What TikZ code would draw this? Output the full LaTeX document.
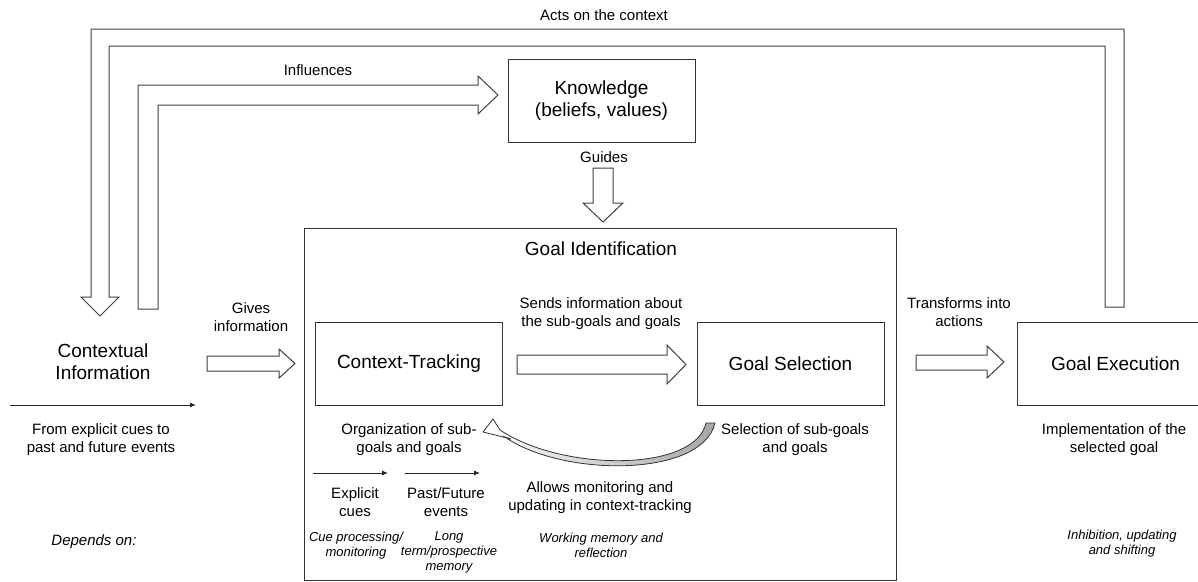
\documentclass[tikz,border=0pt]{standalone}
\usepackage{fontspec}
\setmainfont{Liberation Sans}
\usetikzlibrary{arrows.meta}

\begin{document}
\begin{tikzpicture}[x = 1pt, y = -1pt, line width = 1pt,
        every node/.style={align=center, inner sep=0pt, font=\fontsize{15}{18}\selectfont},
        stage/.style={draw=black!80, minimum width=187, minimum height=83, font=\fontsize{19}{22}\selectfont},
        note/.style={font=\fontsize{13}{15}\selectfont\itshape},
        block/.style={draw=black!75, fill=white, line join=miter},
        cuearrow/.style={-{Latex[length=6pt,width=5pt]}, line width=0.9pt, draw=black!85}
]
    \useasboundingbox (0,0) rectangle (1198,581);

    % boxes
    \node[stage, minimum width=592, minimum height=352] (ident) at (600,404) {};
    \node[font=\fontsize{19}{22}\selectfont] (identtitle) at (601,249) {Goal Identification};
    \node[stage] (know) at (601.5,100.5) {Knowledge\\(beliefs, values)};
    \node[stage] (track) at (409,363.5) {Context-Tracking};
    \node[stage] (select) at (790.5,363.5) {Goal Selection};
    \node[stage, minimum width=196, anchor=west] (exec) at (1017,363.5) {Goal Execution};
    \node[font=\fontsize{19}{22}\selectfont] (ctx) at (103,362) {Contextual\\Information};

    % labels
    \node (acts) at (604,15) {Acts on the context};
    \node (influ) at (318,70) {Influences};
    \node (guides) at (604,157) {Guides};
    \node (gives) at (251,317) {Gives\\information};
    \node (sends) at (601,314) {Sends information about\\the sub-goals and goals};
    \node (transf) at (959,312) {Transforms into\\actions};
    \node (fromcues) at (101,440) {From explicit cues to\\past and future events};
    \node (organ) at (409,440) {Organization of sub-\\goals and goals};
    \node (selof) at (795,440) {Selection of sub-goals\\and goals};
    \node (implem) at (1114,440) {Implementation of the\\selected goal};
    \node (explicit) at (355,502) {Explicit\\cues};
    \node (pastfut) at (446,502) {Past/Future\\events};
    \node (allows) at (600,498) {Allows monitoring and\\updating in context-tracking};
    \node (depends) at (94,542) {\itshape Depends on:};
    \node[note] (cueproc) at (356,545.5) {Cue processing/\\monitoring};
    \node[note] (longterm) at (449,552) {Long\\term/prospective\\memory};
    \node[note] (working) at (601,545.5) {Working memory and\\reflection};
    \node[note] (inhib) at (1122,544) {Inhibition, updating\\and shifting};

    % big block arrows
    \draw[block] (1105,307) -- (1124,307) -- (1124,29) -- (91,29) -- (91,297) -- (81,297)
        -- (100,316) -- (119,297) -- (109,297) -- (109,46) -- (1105,46) -- cycle;
    \draw[block] (138,309) -- (138,85) -- (478,85) -- (478,76) -- (498,95) -- (478,114)
        -- (478,105) -- (158,105) -- (158,309) -- cycle;
    \draw[block] (593,168) -- (613,168) -- (613,203) -- (623,203) -- (603,222) -- (583,203) -- (593,203) -- cycle;
    \draw[block] (207,356) -- (279,356) -- (279,349) -- (295,363.5) -- (279,378) -- (279,371) -- (207,371) -- cycle;
    \draw[block] (517,355) -- (667,355) -- (667,345) -- (686,364.5) -- (667,384) -- (667,374) -- (517,374) -- cycle;
    \draw[block] (916,355) -- (987,355) -- (987,346) -- (1004,362) -- (987,378) -- (987,370) -- (916,370) -- cycle;

    % feedback arrow
    \draw[draw=black!80, left color=white, right color=black!35, line width=0.8pt, line join=miter]
        (706,423) -- (715,423) .. controls (702,478) and (562,477) .. (505,437) -- (511,439)
        -- (483,432) -- (493,419) -- (500,430) .. controls (563,472) and (695,472) .. (706,423) -- cycle;

    % thin arrows
    \coordinate (ctxA) at (10,405);
    \coordinate (ctxB) at (196,405);
    \coordinate (cueA) at (313,473);
    \coordinate (cueB) at (388,473);
    \coordinate (pastA) at (405,473);
    \coordinate (pastB) at (480,473);
    \draw[cuearrow] (ctxA) -- (ctxB);
    \draw[cuearrow] (cueA) -- (cueB);
    \draw[cuearrow] (pastA) -- (pastB);

\end{tikzpicture}
\end{document}
